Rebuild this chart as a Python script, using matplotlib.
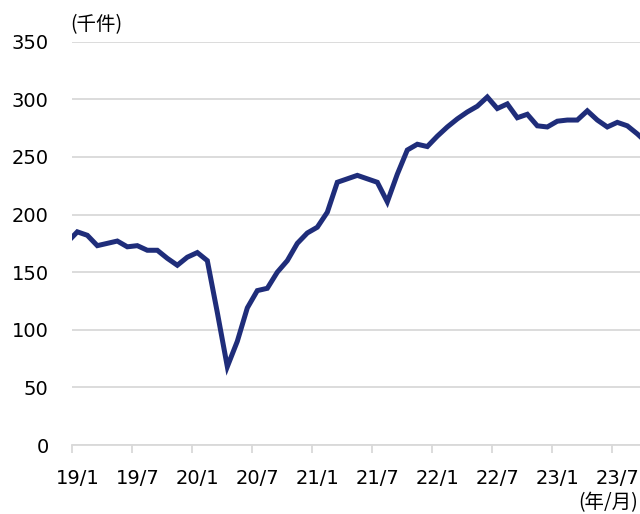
import matplotlib
matplotlib.use("Agg")
import matplotlib.pyplot as plt
import numpy as np
import pandas as pd

# --- data ---
months = pd.period_range("2018-12", "2023-10", freq="M")
values = [
    176,                                                  # 18/12
    185, 182, 173, 175, 177, 172, 173, 169, 169, 162, 156, 163,  # 2019
    167, 160, 115, 68, 90, 119, 134, 136, 150, 160, 175, 184,    # 2020
    189, 202, 228, 231, 234, 231, 228, 211, 235, 256, 261, 259,  # 2021
    268, 276, 283, 289, 294, 302, 292, 296, 284, 287, 277, 276,  # 2022
    281, 282, 282, 290, 282, 276, 280, 277, 270, 262,            # 2023
]
tick_labels = ["19/1", "19/7", "20/1", "20/7", "21/1",
               "21/7", "22/1", "22/7", "23/1", "23/7"]
y_ticks = [0, 50, 100, 150, 200, 250, 300, 350]

LINE_COLOR = "#1f2d7a"
GRID_COLOR = "#d9d9d9"
CJK = ["Noto Sans CJK JP", "DejaVu Sans"]

# month index: 0 = 2019/1
x = np.arange(len(months)) - 1

fig = plt.figure(figsize=(6.4, 5.14), dpi=100)
ax = fig.add_axes([0.113, 0.1342, 0.887, 0.7847])

ax.plot(x, values, color=LINE_COLOR, linewidth=3.6, solid_joinstyle="miter",
        zorder=3)

ax.set_xlim(-0.5, 56.27)
ax.set_ylim(0, 350)

# grid lines
ax.set_yticks(y_ticks)
ax.yaxis.grid(True, color=GRID_COLOR, linewidth=1.3)
ax.set_axisbelow(True)
ax.tick_params(axis="y", length=0, pad=17, labelsize=14)

# category ticks between months, labels under the month
label_pos = np.arange(len(tick_labels)) * 6
ax.set_xticks(label_pos - 0.5)
ax.set_xticklabels([])
ax.tick_params(axis="x", which="major", length=6, color=GRID_COLOR, width=1.3)
ax.set_xticks(label_pos, minor=True)
ax.set_xticklabels(tick_labels, minor=True)
ax.tick_params(axis="x", which="minor", length=0, pad=17, labelsize=14)

for side in ["top", "right", "left"]:
    ax.spines[side].set_visible(False)
ax.spines["bottom"].set_color(GRID_COLOR)
ax.spines["bottom"].set_linewidth(1.3)

fig.text(70 / 640, 1 - 14 / 514, "(千件)", family=CJK, fontsize=14,
         ha="left", va="top")
fig.text(638 / 640, 1 / 514, "(年/月)", family=CJK, fontsize=14,
         ha="right", va="bottom")

fig.savefig("out.png", dpi=100)
